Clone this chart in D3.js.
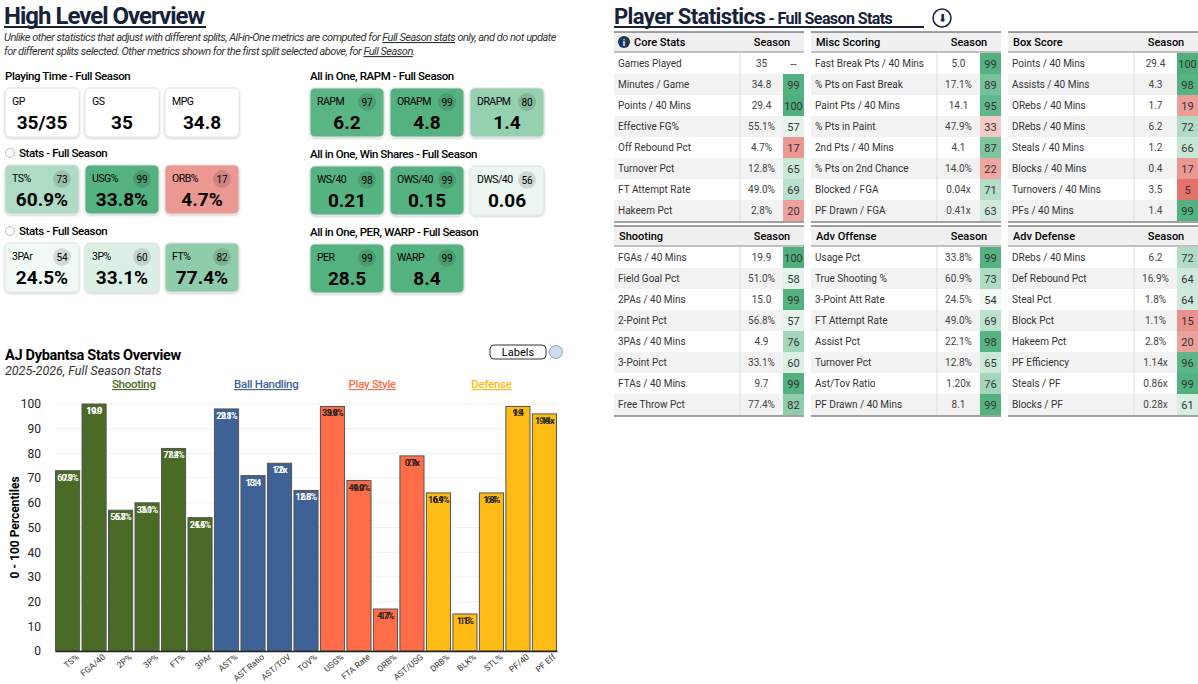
<!DOCTYPE html>
<html><head><meta charset="utf-8">
<script src="https://cdn.jsdelivr.net/npm/d3@7/dist/d3.min.js"></script>
<style>
body{margin:0;background:#fff;font-family:Roboto,"Noto Sans",sans-serif;}
svg text{font-family:Roboto,"Noto Sans",sans-serif;}
</style></head>
<body><svg id="dash" width="1198" height="684"></svg>
<script>
// ---- data ----
const playingTime = [["GP","35/35",null],["GS","35",null],["MPG","34.8",null]];
const statsA = [["TS%","60.9%",73],["USG%","33.8%",99],["ORB%","4.7%",17]];
const statsB = [["3PAr","24.5%",54],["3P%","33.1%",60],["FT%","77.4%",82]];
const rapm = [["RAPM","6.2",97],["ORAPM","4.8",99],["DRAPM","1.4",80]];
const winShares = [["WS/40","0.21",98],["OWS/40","0.15",99],["DWS/40","0.06",56]];
const perWarp = [["PER","28.5",99],["WARP","8.4",99]];

const barCats = ["TS%","FGA/40","2P%","3P%","FT%","3PAr","AST%","AST Ratio","AST/TOV","TOV%","USG%","FTA Rate","ORB%","AST/USG","DRB%","BLK%","STL%","PF/40","PF Eff"];
const barPcts = [73,100,57,60,82,54,98,71,76,65,99,69,17,79,64,15,64,99,96];
const barLabels = ["60.9%","19.9","56.8%","33.1%","77.4%","24.5%","22.1%","13.4","1.2x","12.8%","33.8%","49.0%","4.7%","0.7x","16.9%","1.1%","1.8%","1.4","1.14x"];
const barGroups = ["Shooting","Shooting","Shooting","Shooting","Shooting","Shooting","Ball Handling","Ball Handling","Ball Handling","Ball Handling","Play Style","Play Style","Play Style","Play Style","Defense","Defense","Defense","Defense","Defense"];
const groupNames = ["Shooting","Ball Handling","Play Style","Defense"];
const groupColors = ["#4a6b26","#3f6296","#fe6d48","#fdbb13"];
const yTicks = [0,10,20,30,40,50,60,70,80,90,100];

const coreStats = [["Games Played","35",null],["Minutes / Game","34.8",99],["Points / 40 Mins","29.4",100],["Effective FG%","55.1%",57],["Off Rebound Pct","4.7%",17],["Turnover Pct","12.8%",65],["FT Attempt Rate","49.0%",69],["Hakeem Pct","2.8%",20]];
const miscScoring = [["Fast Break Pts / 40 Mins","5.0",99],["% Pts on Fast Break","17.1%",89],["Paint Pts / 40 Mins","14.1",95],["% Pts in Paint","47.9%",33],["2nd Pts / 40 Mins","4.1",87],["% Pts on 2nd Chance","14.0%",22],["Blocked / FGA","0.04x",71],["PF Drawn / FGA","0.41x",63]];
const boxScore = [["Points / 40 Mins","29.4",100],["Assists / 40 Mins","4.3",98],["ORebs / 40 Mins","1.7",19],["DRebs / 40 Mins","6.2",72],["Steals / 40 Mins","1.2",66],["Blocks / 40 Mins","0.4",17],["Turnovers / 40 Mins","3.5",5],["PFs / 40 Mins","1.4",99]];
const shooting = [["FGAs / 40 Mins","19.9",100],["Field Goal Pct","51.0%",58],["2PAs / 40 Mins","15.0",99],["2-Point Pct","56.8%",57],["3PAs / 40 Mins","4.9",76],["3-Point Pct","33.1%",60],["FTAs / 40 Mins","9.7",99],["Free Throw Pct","77.4%",82]];
const advOffense = [["Usage Pct","33.8%",99],["True Shooting %","60.9%",73],["3-Point Att Rate","24.5%",54],["FT Attempt Rate","49.0%",69],["Assist Pct","22.1%",98],["Turnover Pct","12.8%",65],["Ast/Tov Ratio","1.20x",76],["PF Drawn / 40 Mins","8.1",99]];
const advDefense = [["DRebs / 40 Mins","6.2",72],["Def Rebound Pct","16.9%",64],["Steal Pct","1.8%",64],["Block Pct","1.1%",15],["Hakeem Pct","2.8%",20],["PF Efficiency","1.14x",96],["Steals / PF","0.86x",99],["Blocks / PF","0.28x",61]];

// ---- helpers ----
const svg = d3.select("#dash");
const greenScale = d3.scaleLinear().domain([50,100]).range(["#ffffff","#4fb07d"]);
const redScale = d3.scaleLinear().domain([50,0]).range(["#ffffff","#e0625a"]);
function pctColor(p){ if(p==null) return "#fff"; return p>=50 ? greenScale(p) : redScale(p); }

const defs = svg.append("defs");
const sh = defs.append("filter").attr("id","shadow").attr("x","-10%").attr("y","-10%").attr("width","130%").attr("height","140%");
sh.append("feDropShadow").attr("dx",0).attr("dy",1).attr("stdDeviation",1.2).attr("flood-color","#000").attr("flood-opacity",0.22);

function cardRow(data, x0, y0, title, radio){
  svg.append("text").attr("x", x0 + (radio?14:0)).attr("y", y0-8).attr("font-size",11.5)
    .attr("font-weight",500).attr("letter-spacing",-0.4).text(title);
  if(radio) svg.append("circle").attr("cx",x0+5).attr("cy",y0-12).attr("r",4.5).attr("fill","#fff").attr("stroke","#bbb");
  const g = svg.append("g").selectAll("g").data(data).join("g")
    .attr("transform",(d,i)=>`translate(${x0+i*80},${y0})`);
  g.append("rect").attr("width",74).attr("height",49).attr("rx",5)
    .attr("fill",d=>pctColor(d[2])).attr("stroke","#e2e2e2").attr("filter","url(#shadow)");
  g.append("text").attr("x",7).attr("y",17).attr("font-size",10.5).attr("letter-spacing",-0.5).text(d=>d[0]);
  g.filter(d=>d[2]!=null).append("circle").attr("cx",57).attr("cy",14).attr("r",9).attr("fill","rgba(0,0,0,0.12)");
  g.filter(d=>d[2]!=null).append("text").attr("x",57).attr("y",17.5).attr("text-anchor","middle").attr("font-size",10).text(d=>d[2]);
  g.append("text").attr("x",37).attr("y",41).attr("text-anchor","middle").attr("font-size",19).attr("font-weight",700).text(d=>d[1]);
}

// ---- left header ----
svg.append("text").attr("x",4).attr("y",24).attr("font-size",24).attr("font-weight",700).attr("fill","#15223a")
  .attr("letter-spacing",-1).text("High Level Overview");
svg.append("line").attr("x1",4).attr("x2",206).attr("y1",27).attr("y2",27).attr("stroke","#15223a").attr("stroke-width",2);
const note = svg.append("text").attr("font-size",11).attr("font-style","italic").attr("fill","#333").attr("letter-spacing",-0.5);
note.append("tspan").attr("x",4).attr("y",41).text("Unlike other statistics that adjust with different splits, All-in-One metrics are computed for ");
note.append("tspan").attr("text-decoration","underline").text("Full Season stats");
note.append("tspan").text(" only, and do not update");
note.append("tspan").attr("x",4).attr("y",55).text("for different splits selected. Other metrics shown for the first split selected above, for ");
note.append("tspan").attr("text-decoration","underline").text("Full Season");
note.append("tspan").text(".");

cardRow(playingTime,5,88,"Playing Time - Full Season",false);
cardRow(statsA,5,165,"Stats - Full Season",true);
cardRow(statsB,5,243,"Stats - Full Season",true);
cardRow(rapm,310,88,"All in One, RAPM - Full Season",false);
cardRow(winShares,310,166,"All in One, Win Shares - Full Season",false);
cardRow(perWarp,310,244,"All in One, PER, WARP - Full Season",false);

// ---- bar chart ----
svg.append("text").attr("x",5).attr("y",360).attr("font-size",14.5).attr("font-weight",700).attr("letter-spacing",-0.3).text("AJ Dybantsa Stats Overview");
svg.append("text").attr("x",5).attr("y",375).attr("font-size",12.5).attr("font-style","italic").attr("fill","#333").text("2025-2026, Full Season Stats");
svg.append("rect").attr("x",490).attr("y",345).attr("width",56).attr("height",14).attr("rx",4).attr("fill","#fff").attr("stroke","#333");
svg.append("text").attr("x",518).attr("y",356).attr("text-anchor","middle").attr("font-size",11).text("Labels");
svg.append("circle").attr("cx",556).attr("cy",352).attr("r",6.5).attr("fill","#c9dcf3").attr("stroke","#8aa");

const m = {l:55,r:557,t:404,b:651};
const x = d3.scaleBand().domain(barCats).range([m.l,m.r]).paddingInner(0.09).paddingOuter(0.02);
const y = d3.scaleLinear().domain([0,100]).range([m.b,m.t]);
const groupColor = d3.scaleOrdinal().domain(groupNames).range(groupColors);

svg.append("g").selectAll("line").data(yTicks).join("line")
  .attr("x1",m.l).attr("x2",m.r).attr("y1",d=>y(d)).attr("y2",d=>y(d)).attr("stroke","#f0f0f0");
const yAxis = svg.append("g").attr("transform",`translate(${m.l},0)`).call(d3.axisLeft(y).tickValues(yTicks).tickSize(0).tickPadding(14));
yAxis.select(".domain").remove();
yAxis.selectAll("text").attr("font-size",12).attr("fill","#222");
svg.append("text").attr("transform",`translate(19,${(m.t+m.b)/2}) rotate(-90)`).attr("text-anchor","middle")
  .attr("font-size",12).attr("font-weight",700).text("0 - 100 Percentiles");

groupNames.forEach(gn=>{
  const cs = barCats.filter((c,i)=>barGroups[i]===gn);
  const cx = (x(cs[0]) + x(cs[cs.length-1]) + x.bandwidth())/2;
  svg.append("text").attr("x",cx).attr("y",388).attr("text-anchor","middle").attr("font-size",11.5).attr("font-weight",500)
    .attr("fill",groupColor(gn)).attr("text-decoration","underline").attr("letter-spacing",-0.3).text(gn);
});

const bars = svg.append("g").selectAll("g").data(barCats).join("g");
bars.append("rect").attr("x",d=>x(d)).attr("width",x.bandwidth())
  .attr("y",(d,i)=>y(barPcts[i])).attr("height",(d,i)=>m.b-y(barPcts[i]))
  .attr("fill",(d,i)=>groupColor(barGroups[i])).attr("stroke","#555").attr("stroke-width",1);
const lblFill = (d,i)=> (barGroups[i]==="Shooting"||barGroups[i]==="Ball Handling") ? "#fff" : "#222";
bars.append("text").attr("x",d=>x(d)+x.bandwidth()/2).attr("y",(d,i)=>y(barPcts[i])+10)
  .attr("text-anchor","middle").attr("font-size",9).attr("font-weight",700).attr("letter-spacing",-0.8)
  .attr("fill",lblFill).text((d,i)=>barLabels[i]);
bars.append("text").attr("x",d=>x(d)+x.bandwidth()/2).attr("y",(d,i)=>y(barPcts[i])+10)
  .attr("text-anchor","middle").attr("font-size",9).attr("font-weight",700)
  .attr("fill",lblFill).attr("opacity",0.8).text((d,i)=>barPcts[i]);

const xAxis = svg.append("g").attr("transform",`translate(0,${m.b})`).call(d3.axisBottom(x).tickSize(0).tickPadding(4));
xAxis.select(".domain").attr("stroke","#222").attr("stroke-width",1.5);
xAxis.selectAll("text").attr("font-size",8.5).attr("fill","#333").attr("text-anchor","end")
  .attr("transform","translate(6,0) rotate(-40)").attr("dx","0").attr("dy","0.6em");

// ---- right: tables ----
svg.append("text").attr("x",614).attr("y",24).attr("font-size",22).attr("font-weight",700).attr("fill","#15223a").attr("letter-spacing",-0.6)
  .text("Player Statistics").append("tspan").attr("font-size",16).text(" - Full Season Stats");
svg.append("line").attr("x1",614).attr("x2",924).attr("y1",27).attr("y2",27).attr("stroke","#15223a").attr("stroke-width",1.8);
svg.append("circle").attr("cx",942).attr("cy",18).attr("r",9).attr("fill","#fff").attr("stroke","#15223a").attr("stroke-width",1.5);
svg.append("text").attr("x",942).attr("y",22).attr("text-anchor","middle").attr("font-size",11).attr("fill","#15223a").text("⬇");

function table(rows, x0, y0, title, info){
  const w = 190, rh = 21, c1 = 126, c2 = 43;
  const g = svg.append("g").attr("transform",`translate(${x0},${y0})`);
  g.append("rect").attr("width",w).attr("height",20).attr("fill","#f0f0f0");
  g.append("line").attr("x2",w).attr("stroke","#444").attr("stroke-width",1.2);
  g.append("line").attr("x2",w).attr("y1",20).attr("y2",20).attr("stroke","#888");
  if(info){
    g.append("circle").attr("cx",10).attr("cy",10).attr("r",6).attr("fill","#1d3557");
    g.append("text").attr("x",10).attr("y",13.5).attr("text-anchor","middle").attr("font-size",9).attr("font-weight",700).attr("fill","#fff").text("i");
  }
  g.append("text").attr("x",info?20:5).attr("y",14).attr("font-size",11).attr("font-weight",500).text(title);
  g.append("text").attr("x",c1+(w-c1)/2).attr("y",14).attr("text-anchor","middle").attr("font-size",11).attr("font-weight",500).text("Season");
  const r = g.selectAll(".r").data(rows).join("g").attr("transform",(d,i)=>`translate(0,${21+i*rh})`);
  r.append("rect").attr("width",c1+c2).attr("height",rh).attr("fill",(d,i)=>i%2?"#f2f2f2":"#fff");
  r.append("rect").attr("x",c1+c2).attr("width",w-c1-c2).attr("height",rh).attr("fill",(d,i)=>d[2]==null?(i%2?"#f2f2f2":"#fff"):pctColor(d[2]));
  r.append("text").attr("x",4).attr("y",14).attr("font-size",10).attr("fill","#333").text(d=>d[0]);
  r.append("text").attr("x",c1+c2/2).attr("y",14).attr("text-anchor","middle").attr("font-size",10).attr("fill","#444").text(d=>d[1]);
  r.append("text").attr("x",c1+c2+(w-c1-c2)/2).attr("y",14.5).attr("text-anchor","middle").attr("font-size",11).attr("fill","#333").text(d=>d[2]==null?"--":d[2]);
  g.append("line").attr("x1",c1).attr("x2",c1).attr("y1",21).attr("y2",21+rows.length*rh).attr("stroke","#ddd");
  g.append("line").attr("x2",w).attr("y1",21+rows.length*rh+1).attr("y2",21+rows.length*rh+1).attr("stroke","#444").attr("stroke-width",1.2);
}
table(coreStats,614,32,"Core Stats",true);
table(miscScoring,811,32,"Misc Scoring",false);
table(boxScore,1008,32,"Box Score",false);
table(shooting,614,226,"Shooting",false);
table(advOffense,811,226,"Adv Offense",false);
table(advDefense,1008,226,"Adv Defense",false);
</script></body></html>
